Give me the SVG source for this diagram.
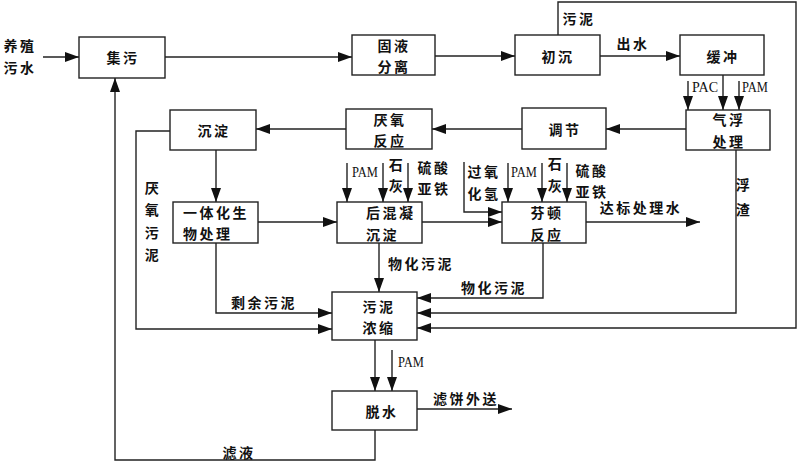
<svg xmlns="http://www.w3.org/2000/svg" width="800" height="465" viewBox="0 0 800 465">
<defs>
<marker id="ah" markerUnits="userSpaceOnUse" markerWidth="14" markerHeight="10" refX="14" refY="5" orient="auto">
<path d="M0,0 L14,5 L0,10 Z" fill="#111"/>
</marker>
<style>
.box{fill:#fff;stroke:#222;stroke-width:1.4}
.ln{fill:none;stroke:#222;stroke-width:1.4}
.ar{fill:none;stroke:#222;stroke-width:1.4;marker-end:url(#ah)}
.t{font-family:"Noto Sans CJK SC","Noto Sans CJK JP",sans-serif;font-size:14px;font-weight:bold;fill:#111;text-anchor:middle;dominant-baseline:central;letter-spacing:2.5px}
.l{text-anchor:start}
.e{font-family:"Liberation Serif",serif;font-size:15px;fill:#111;dominant-baseline:central;text-anchor:start}
</style>
</defs>
<rect width="800" height="465" fill="#fff"/>
<g id="connectors">
<path class="ar" d="M43,57 H79"/>
<path class="ar" d="M165,57 H352"/>
<path class="ar" d="M435,56 H515"/>
<path class="ar" d="M600,56 H680"/>
<path class="ar" d="M558,35 V2 H796 V328 H417"/>
<path class="ar" d="M723,75 V110"/>
<path class="ar" d="M688,81 V110"/>
<path class="ar" d="M739,81 V110"/>
<path class="ar" d="M686,129 H606"/>
<path class="ar" d="M522,129 H432"/>
<path class="ar" d="M346,129 H256"/>
<path class="ar" d="M216,150 V202"/>
<path class="ar" d="M170,131 H136 V329 H332"/>
<path class="ar" d="M258,222 H337"/>
<path class="ar" d="M347,163 V202"/>
<path class="ar" d="M383,163 V202"/>
<path class="ar" d="M408,163 V202"/>
<path class="ar" d="M422,222 H502"/>
<path class="ar" d="M464,162 V212 H502"/>
<path class="ar" d="M508,163 V202"/>
<path class="ar" d="M542,163 V202"/>
<path class="ar" d="M567,163 V202"/>
<path class="ar" d="M586,222 H700"/>
<path class="ar" d="M736,150 V313 H417"/>
<path class="ar" d="M543,243 V298 H417"/>
<path class="ar" d="M379,243 V292"/>
<path class="ar" d="M216,243 V313 H332"/>
<path class="ar" d="M375,340 V391"/>
<path class="ar" d="M392,350 V391"/>
<path class="ar" d="M417,409 H512"/>
<path class="ar" d="M375,430 V460 H115 V78"/>
</g>
<g id="labels">
<text class="t" x="20" y="45">养殖</text>
<text class="t" x="20" y="67">污水</text>
<text class="t" x="579" y="18">污泥</text>
<text class="t" x="633" y="43">出水</text>
<text class="e" x="692" y="87" textLength="26" lengthAdjust="spacingAndGlyphs">PAC</text>
<text class="e" x="742" y="87" textLength="26" lengthAdjust="spacingAndGlyphs">PAM</text>
<text class="e" x="352" y="172" textLength="26" lengthAdjust="spacingAndGlyphs">PAM</text>
<text class="t" x="397" y="164">石</text>
<text class="t" x="397" y="185">灰</text>
<text class="t" x="434" y="167">硫酸</text>
<text class="t" x="434" y="188">亚铁</text>
<text class="t" x="484" y="171">过氧</text>
<text class="t" x="484" y="193">化氢</text>
<text class="e" x="511" y="172" textLength="26" lengthAdjust="spacingAndGlyphs">PAM</text>
<text class="t" x="556" y="163">石</text>
<text class="t" x="556" y="185">灰</text>
<text class="t" x="592" y="170">硫酸</text>
<text class="t" x="592" y="191">亚铁</text>
<text class="t" x="641" y="207">达标处理水</text>
<text class="t" x="744" y="184">浮</text>
<text class="t" x="744" y="209">渣</text>
<text class="t" x="153" y="187">厌</text>
<text class="t" x="153" y="209">氧</text>
<text class="t" x="153" y="232">污</text>
<text class="t" x="153" y="254">泥</text>
<text class="t" x="421" y="263">物化污泥</text>
<text class="t" x="494" y="287">物化污泥</text>
<text class="t" x="264" y="302">剩余污泥</text>
<text class="e" x="398" y="362" textLength="26" lengthAdjust="spacingAndGlyphs">PAM</text>
<text class="t" x="466" y="398">滤饼外送</text>
<text class="t" x="239" y="452">滤液</text>
</g>
<g id="n_jiwu"><rect class="box" x="79" y="37" width="86" height="41"/><text class="t" x="123" y="57">集污</text></g>
<g id="n_guye"><rect class="box" x="352" y="35" width="83" height="40"/><text class="t" x="394" y="45">固液</text><text class="t" x="394" y="66">分离</text></g>
<g id="n_chuchen"><rect class="box" x="515" y="35" width="85" height="40"/><text class="t" x="558" y="56">初沉</text></g>
<g id="n_huanchong"><rect class="box" x="680" y="35" width="84" height="40"/><text class="t" x="723" y="56">缓冲</text></g>
<g id="n_qifu"><rect class="box" x="686" y="110" width="84" height="40"/><text class="t" x="729" y="119">气浮</text><text class="t" x="729" y="141">处理</text></g>
<g id="n_tiaojie"><rect class="box" x="522" y="108" width="84" height="41"/><text class="t" x="565" y="129">调节</text></g>
<g id="n_yanyang"><rect class="box" x="346" y="109" width="86" height="40"/><text class="t" x="390" y="119">厌氧</text><text class="t" x="390" y="140">反应</text></g>
<g id="n_chendian"><rect class="box" x="170" y="110" width="86" height="40"/><text class="t" x="214" y="130">沉淀</text></g>
<g id="n_yitihua"><rect class="box" x="173" y="202" width="85" height="41"/><text class="t l" x="183" y="212">一体化生</text><text class="t l" x="183" y="233">物处理</text></g>
<g id="n_houhunning"><rect class="box" x="337" y="202" width="85" height="41"/><text class="t l" x="366" y="212">后混凝</text><text class="t l" x="366" y="234">沉淀</text></g>
<g id="n_fenton"><rect class="box" x="502" y="202" width="84" height="41"/><text class="t" x="547" y="212">芬顿</text><text class="t" x="547" y="234">反应</text></g>
<g id="n_nongsuo"><rect class="box" x="332" y="292" width="85" height="48"/><text class="t" x="379" y="306">污泥</text><text class="t" x="379" y="327">浓缩</text></g>
<g id="n_tuoshui"><rect class="box" x="332" y="391" width="85" height="39"/><text class="t" x="382" y="411">脱水</text></g>
</svg>
